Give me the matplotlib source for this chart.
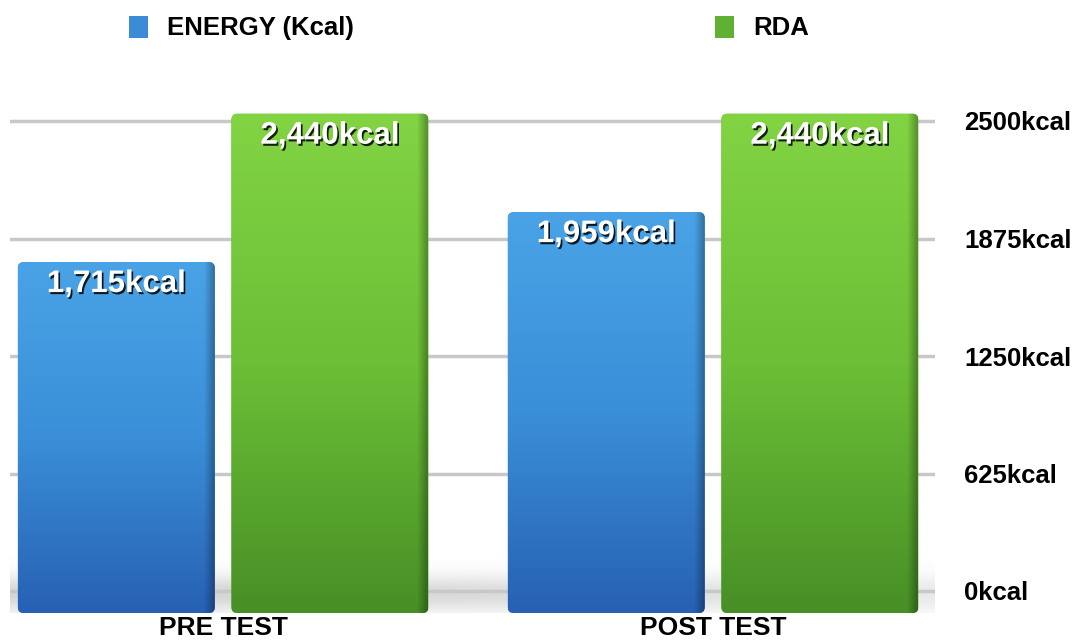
import numpy as np
import matplotlib.pyplot as plt
from matplotlib.colors import LinearSegmentedColormap
from matplotlib.patches import FancyBboxPatch, Rectangle
import matplotlib.patheffects as pe

plt.rcParams['font.family'] = ['Liberation Sans', 'DejaVu Sans']

categories = ['PRE TEST', 'POST TEST']
series = ['ENERGY (Kcal)', 'RDA']
energy = [1715, 1959]
rda = [2440, 2440]
ticks = [0, 625, 1250, 1875, 2500]

W, H = 1076, 641
fig = plt.figure(figsize=(W / 100, H / 100), dpi=100)

# bars axes (front) and grid/tick axes (back, right labels)
ax = fig.add_axes([10 / W, (H - 613) / H, 925 / W, 513 / H])
ax2 = ax.twinx()
ax.set_zorder(ax2.get_zorder() + 1)
ax.patch.set_visible(False)

ax.set_xlim(-0.435, 1.453)
ax.set_ylim(0, 513 / 0.2046)
ax2.set_ylim(-(613 - 591) / 0.188, (591 - 100) / 0.188)

# soft floor shadow
yy = np.linspace(-117, 300, 200)
alpha = 0.3 * np.exp(-((yy - (-15)) / 95) ** 2)
xx = np.linspace(0, 1, 300)
fade = np.clip(1.25 - xx, 0, 1) ** 0.6
shadow = np.zeros((len(yy), len(xx), 4))
shadow[..., :3] = 0.45
shadow[..., 3] = alpha[:, None] * fade[None, :]
ax2.imshow(shadow, extent=[-0.46, 1.65, -117, 300], origin='lower',
           aspect='auto', zorder=0.5, interpolation='bilinear')
ax2.set_xlim(-0.435, 1.453)

cmaps = [LinearSegmentedColormap.from_list('b', ['#2760b4', '#3a8fd8', '#4aa3e6']),
         LinearSegmentedColormap.from_list('g', ['#478f26', '#6cbf36', '#82d443'])]
legend_col = ['#3a8ad6', '#5fb033']

width = 0.402
offsets = [-0.218, 0.218]
grad = np.linspace(0, 1, 256)[:, None]
side = np.zeros((1, 100, 4))
side[0, :, 3] = np.clip((np.linspace(0, 1, 100) - 0.95) / 0.05, 0, 1) * 0.3

for j, vals in enumerate([energy, rda]):
    for i, v in enumerate(vals):
        x0 = i + offsets[j] - width / 2
        patch = FancyBboxPatch((x0, 0), width, v,
                               boxstyle='round,pad=0,rounding_size=0.012',
                               mutation_aspect=2400, facecolor=legend_col[j],
                               edgecolor='none', zorder=2)
        ax.add_patch(patch)
        im = ax.imshow(grad, extent=[x0, x0 + width, 0, v], origin='lower',
                       cmap=cmaps[j], aspect='auto', zorder=2.1)
        im.set_clip_path(patch)
        im2 = ax.imshow(side, extent=[x0, x0 + width, 0, v], origin='lower',
                        aspect='auto', zorder=2.2)
        im2.set_clip_path(patch)
        ax.annotate(f'{v:,}kcal', (i + offsets[j], v), xytext=(0, -5),
                    textcoords='offset points', ha='center', va='top',
                    fontsize=22.5, fontweight='bold', color='white', zorder=5,
                    path_effects=[pe.withSimplePatchShadow(offset=(1.2, -1.5),
                                                           shadow_rgbFace='black',
                                                           alpha=0.85)])

ax.set_xlim(-0.435, 1.453)
ax.set_ylim(0, 513 / 0.2046)

ax.set_xticks([0, 1])
ax.set_xticklabels(categories, fontsize=19, fontweight='bold')
ax.tick_params(axis='x', length=0, pad=2)
ax.set_yticks([])
for s in ax.spines.values():
    s.set_visible(False)

ax2.set_yticks(ticks)
ax2.set_yticklabels([f'{t}kcal' for t in ticks], fontsize=18.5, fontweight='bold')
ax2.tick_params(axis='y', length=0, pad=21)
ax2.yaxis.grid(True, color='#c8c8c8', lw=2.5)
ax2.set_axisbelow(True)
for s in ax2.spines.values():
    s.set_visible(False)

# legend on top
lx = [129, 715]
for k, name in enumerate(series):
    fig.patches.append(Rectangle((lx[k] / W, 1 - 38 / H), 19 / W, 22 / H,
                                 transform=fig.transFigure,
                                 facecolor=legend_col[k], edgecolor='none'))
    fig.text((lx[k] + 38) / W, 1 - 28 / H, name, va='center', ha='left',
             fontsize=18.5, fontweight='bold')

fig.savefig('out.png', dpi=100)
